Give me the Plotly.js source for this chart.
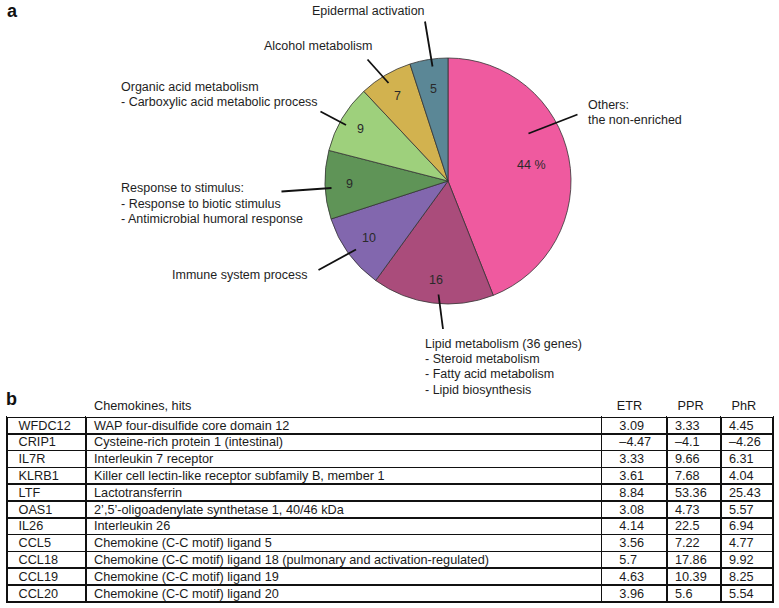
<!DOCTYPE html>
<html>
<head>
<meta charset="utf-8">
<script src="https://cdn.plot.ly/plotly-3.0.1.min.js"></script>
<style>
  html, body { margin: 0; padding: 0; background: #fff; }
  #chart { width: 779px; height: 608px; }
  #chart .cell-text { transform: translateY(-5px); }
</style>
</head>
<body>
<div id="chart"></div>
<script>
// ---------------- DATA ----------------
// Pie (panel a): categories and percentages, clockwise from 12 o'clock
const categories = [
  "Others: the non-enriched",
  "Lipid metabolism (36 genes)",
  "Immune system process",
  "Response to stimulus",
  "Organic acid metabolism",
  "Alcohol metabolism",
  "Epidermal activation"
];
const percents = [44, 16, 10, 9, 9, 7, 5];
const sliceText = ["44 %", "16", "10", "9", "9", "7", "5"];

// Table (panel b)
const genes = ["WFDC12", "CRIP1", "IL7R", "KLRB1", "LTF", "OAS1", "IL26", "CCL5", "CCL18", "CCL19", "CCL20"];
const descriptions = [
  "WAP four-disulfide core domain 12",
  "Cysteine-rich protein 1 (intestinal)",
  "Interleukin 7 receptor",
  "Killer cell lectin-like receptor subfamily B, member 1",
  "Lactotransferrin",
  "2\u2019,5\u2019-oligoadenylate synthetase 1, 40/46 kDa",
  "Interleukin 26",
  "Chemokine (C-C motif) ligand 5",
  "Chemokine (C-C motif) ligand 18 (pulmonary and activation-regulated)",
  "Chemokine (C-C motif) ligand 19",
  "Chemokine (C-C motif) ligand 20"
];
const ETR = [3.09, -4.47, 3.33, 3.61, 8.84, 3.08, 4.14, 3.56, 5.7, 4.63, 3.96];
const PPR = [3.33, -4.1, 9.66, 7.68, 53.36, 4.73, 22.5, 7.22, 17.86, 10.39, 5.6];
const PhR = [4.45, -4.26, 6.31, 4.04, 25.43, 5.57, 6.94, 4.77, 9.92, 8.25, 5.54];
const tableHeader = ["", "Chemokines, hits", "ETR", "PPR", "PhR"];

// ---------------- LAYOUT / STYLE ----------------
const W = 779, H = 608;
const FONT = "Liberation Sans, Arial, Helvetica, sans-serif";
const sliceColors = ["#EF5A9F", "#AA4C7B", "#8267AE", "#5F9457", "#9ED07C", "#D2B24F", "#5B8796"];
const pieCx = 448, pieCy = 181, pieR = 123;               // pixel geometry of the pie
const numberRadius = [0.69, 0.81, 0.79, 0.80, 0.83, 0.80, 0.76]; // where numbers sit (fraction of radius)

// outside label blocks: [left x, first-line center y, lines]
const labelBlocks = [
  {x: 586, y: 105, lines: ["Others:", "the non-enriched"]},
  {x: 422.5, y: 344, lines: ["Lipid metabolism (36 genes)", "- Steroid metabolism", "- Fatty acid metabolism", "- Lipid biosynthesis"]},
  {x: 170, y: 274.5, lines: ["Immune system process"]},
  {x: 119, y: 188.5, lines: ["Response to stimulus:", "- Response to biotic stimulus", "- Antimicrobial humoral response"]},
  {x: 119, y: 87, lines: ["Organic acid metabolism", "- Carboxylic acid metabolic process"]},
  {x: 261.5, y: 46.5, lines: ["Alcohol metabolism"]},
  {x: 310, y: 11, lines: ["Epidermal activation"]}
];
const lineSpacing = 15.2;
// leader lines [x0,y0,x1,y1] in pixels
const leaders = [
  [577.5, 114.5, 528.5, 133.5],
  [443, 329, 438.5, 294.5],
  [318.5, 270, 356, 249.5],
  [281.5, 191.5, 331.5, 188],
  [320.5, 111.5, 346, 125],
  [367.5, 59.5, 388.5, 83],
  [425, 21.5, 432.5, 66.5]
];

const px = x => x / W;
const py = y => 1 - y / H;

const annotations = [];
const shapes = [];

// numbers inside slices, placed at each slice's mid angle
const total = percents.reduce((a, b) => a + b, 0);
let cum = 0;
percents.forEach((v, i) => {
  const mid = (cum + v / 2) / total * 2 * Math.PI;
  cum += v;
  const k = numberRadius[i] * pieR;
  annotations.push({
    x: px(pieCx + k * Math.sin(mid)), y: py(pieCy - k * Math.cos(mid)),
    xref: "paper", yref: "paper", xanchor: "center", yanchor: "middle",
    text: sliceText[i], showarrow: false,
    font: {family: FONT, size: 12.5, color: "#2a2a2a"}
  });
});

labelBlocks.forEach(b => {
  b.lines.forEach((t, j) => {
    annotations.push({
      x: px(b.x), y: py(b.y + j * lineSpacing), xref: "paper", yref: "paper",
      xanchor: "left", yanchor: "middle", text: t, showarrow: false,
      font: {family: FONT, size: 12.5, color: "#1e1e1e"}
    });
  });
});

leaders.forEach(l => {
  shapes.push({type: "line", xref: "paper", yref: "paper",
    x0: px(l[0]), y0: py(l[1]), x1: px(l[2]), y1: py(l[3]),
    line: {color: "#111", width: 1.8}});
});

// panel letters
annotations.push({x: px(5), y: py(11), xref: "paper", yref: "paper", xanchor: "left", yanchor: "middle",
  text: "<b>a</b>", showarrow: false, font: {family: FONT, size: 18, color: "#111"}});
annotations.push({x: px(4), y: py(399), xref: "paper", yref: "paper", xanchor: "left", yanchor: "middle",
  text: "<b>b</b>", showarrow: false, font: {family: FONT, size: 18, color: "#111"}});

const fmt = v => (v < 0 ? "\u2013" + Math.abs(v) : String(v));
const TS = "\u2009";
const NB = "\u00a0";

const pieTrace = {
  type: "pie",
  labels: categories,
  values: percents,
  sort: false,
  direction: "clockwise",
  rotation: 0,
  textinfo: "none",
  hoverinfo: "skip",
  showlegend: false,
  marker: {colors: sliceColors, line: {color: "#333", width: 0.8}},
  domain: {x: [px(pieCx - pieR), px(pieCx + pieR)], y: [py(pieCy + pieR), py(pieCy - pieR)]}
};

const tableTrace = {
  type: "table",
  domain: {x: [px(7), px(773)], y: [0, py(397)]},
  columnwidth: [79, 515.5, 65.2, 54, 52],
  header: {
    values: tableHeader,
    align: "left",
    height: 20,
    line: {width: 0, color: "white"},
    fill: {color: "white"},
    prefix: ["", "", NB + NB, TS, TS],
    font: {family: FONT, size: 12.7, color: "#1a1a1a"}
  },
  cells: {
    values: [genes, descriptions, ETR.map(fmt), PPR.map(fmt), PhR.map(fmt)],
    align: "left",
    height: 16.8,
    prefix: [NB, "", NB + NB + TS, "", ""],
    line: {color: "#111", width: 1.5},
    fill: {color: "white"},
    font: {family: FONT, size: 12.7, color: "#1a1a1a"}
  }
};

const layout = {
  width: W, height: H,
  margin: {l: 0, r: 0, t: 0, b: 0},
  paper_bgcolor: "white",
  plot_bgcolor: "white",
  font: {family: FONT},
  annotations: annotations,
  shapes: shapes,
  showlegend: false
};

Plotly.newPlot("chart", [pieTrace, tableTrace], layout, {displayModeBar: false, staticPlot: true});
</script>
</body>
</html>
